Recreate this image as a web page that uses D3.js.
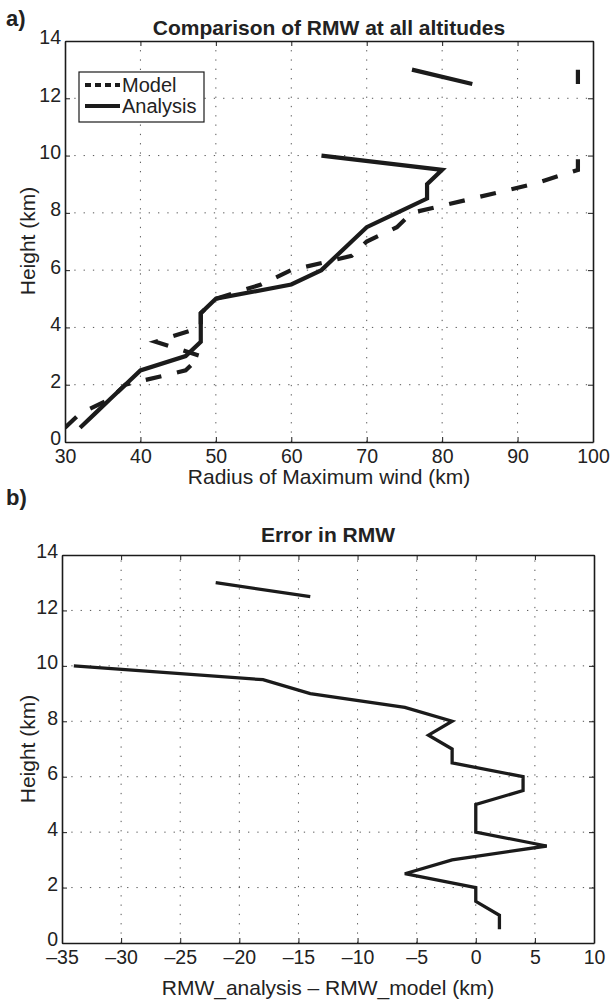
<!DOCTYPE html>
<html lang="en">
<head>
<meta charset="UTF-8">
<title>RMW comparison</title>
<script src="https://d3js.org/d3.v7.min.js"></script>
<style>
  body { margin: 0; background: #fff; }
  svg { display: block; font-family: "Liberation Sans", Arial, Helvetica, sans-serif; }
  .tick text { fill: #222; }
</style>
</head>
<body>
<svg id="fig" width="613" height="1002"></svg>
<script>
// heights (km) where RMW was sampled
const heights = [0.5, 1, 1.5, 2, 2.5, 3, 3.5, 4, 4.5, 5, 5.5, 6, 6.5, 7, 7.5, 8, 8.5, 9, 9.5, 10, 10.5, 11, 11.5, 12, 12.5, 13];
// RMW (km), null where missing
const modelRmw    = [30, 32, 36, 38, 46, 48, 42, 48, 48, 50, 56, 60, 68, 70, 74, 76, 84, 92, 98, 98, null, null, null, null, 98, 98];
const analysisRmw = [32, 34, 36, 38, 40, 46, 48, 48, 48, 50, 60, 64, 66, 68, 70, 74, 78, 78, 80, 64, null, null, null, null, 84, 76];
// analysis - model (km)
const rmwError    = [2, 2, 0, 0, -6, -2, 6, 0, 0, 0, 4, 4, -2, -2, -4, -2, -6, -14, -18, -34, null, null, null, null, -14, -22];

const ticksA = [30, 40, 50, 60, 70, 80, 90, 100];
const ticksB = [-35, -30, -25, -20, -15, -10, -5, 0, 5, 10];
const ticksY = [0, 2, 4, 6, 8, 10, 12, 14];

const svg = d3.select("#fig");
const ink = "#1b1b1b";
const minus = v => String(v).replace("-", "\u2013");

// draws grid, box, ticks and labels for one panel
function frame(x, y, xTicks, name) {
  const [x0, x1] = x.range();
  const [y0, y1] = y.range();

  svg.append("clipPath").attr("id", "clip-" + name)
    .append("rect").attr("x", x0).attr("y", y1).attr("width", x1 - x0).attr("height", y0 - y1);

  const grid = svg.append("g").attr("stroke", "#555").attr("stroke-width", 1)
    .attr("stroke-dasharray", "1.3,8");
  grid.selectAll(".gx").data(xTicks.slice(1, -1)).join("line")
    .attr("x1", d => x(d)).attr("x2", d => x(d)).attr("y1", y0).attr("y2", y1);
  grid.selectAll(".gy").data(ticksY.slice(1, -1)).join("line")
    .attr("y1", d => y(d)).attr("y2", d => y(d)).attr("x1", x0).attr("x2", x1);

  const bottom = svg.append("g").attr("transform", `translate(0,${y0})`)
    .call(d3.axisBottom(x).tickValues(xTicks).tickFormat(minus).tickSize(-5).tickSizeOuter(0).tickPadding(7));
  const left = svg.append("g").attr("transform", `translate(${x0},0)`)
    .call(d3.axisLeft(y).tickValues(ticksY).tickSize(-5).tickSizeOuter(0).tickPadding(4));
  const top = svg.append("g").attr("transform", `translate(0,${y1})`)
    .call(d3.axisTop(x).tickValues(xTicks).tickFormat("").tickSize(-5).tickSizeOuter(0));
  const right = svg.append("g").attr("transform", `translate(${x1},0)`)
    .call(d3.axisRight(y).tickValues(ticksY).tickFormat("").tickSize(-5).tickSizeOuter(0));

  [bottom, left, top, right].forEach(a => {
    a.select(".domain").attr("stroke", ink).attr("stroke-width", 1.6);
    a.selectAll(".tick line").attr("stroke", ink).attr("stroke-width", 1);
    a.selectAll("text").style("font-size", "19.5px").style("font-family", null);
  });
  left.selectAll("text").attr("dy", "0.15em");
}

function lineOf(x, y, values) {
  return d3.line()
    .defined((d, i) => values[i] != null)
    .x((d, i) => x(values[i]))
    .y(d => y(d))(heights);
}

// ---------- panel a ----------
const xa = d3.scaleLinear().domain([30, 100]).range([65, 593]);
const ya = d3.scaleLinear().domain([0, 14]).range([442, 41]);
frame(xa, ya, ticksA, "a");

const linesA = svg.append("g").attr("clip-path", "url(#clip-a)")
  .attr("fill", "none").attr("stroke", ink).attr("stroke-width", 4.2)
  .attr("stroke-linejoin", "miter");
linesA.append("path").attr("d", lineOf(xa, ya, modelRmw)).attr("stroke-dasharray", "16,16");
linesA.append("path").attr("d", lineOf(xa, ya, analysisRmw));

// legend
const leg = svg.append("g").attr("transform", "translate(79,72)");
leg.append("rect").attr("width", 125).attr("height", 50)
  .attr("fill", "#fff").attr("stroke", ink).attr("stroke-width", 1.2);
const legItems = [{ name: "Model", dash: "6,4" }, { name: "Analysis", dash: null }];
legItems.forEach((d, i) => {
  const cy = 13 + i * 21;
  leg.append("line").attr("x1", 6).attr("x2", 41).attr("y1", cy).attr("y2", cy)
    .attr("stroke", ink).attr("stroke-width", 4.2).attr("stroke-dasharray", d.dash);
  leg.append("text").attr("x", 43).attr("y", cy).attr("dy", "0.36em")
    .style("font-size", "20px").attr("fill", "#222").text(d.name);
});

svg.append("text").attr("x", 329).attr("y", 35).attr("text-anchor", "middle")
  .style("font-size", "21px").style("font-weight", "bold").attr("fill", "#222")
  .text("Comparison of RMW at all altitudes");
svg.append("text").attr("x", 6).attr("y", 26)
  .style("font-size", "22px").style("font-weight", "bold").attr("fill", "#222").text("a)");
svg.append("text").attr("x", 329).attr("y", 484).attr("text-anchor", "middle")
  .style("font-size", "21px").attr("fill", "#222").text("Radius of Maximum wind (km)");
svg.append("text").attr("transform", "rotate(-90)").attr("x", -241).attr("y", 35)
  .attr("text-anchor", "middle").style("font-size", "21px").attr("fill", "#222").text("Height (km)");

// ---------- panel b ----------
const xb = d3.scaleLinear().domain([-35, 10]).range([62, 594]);
const yb = d3.scaleLinear().domain([0, 14]).range([943, 555]);
frame(xb, yb, ticksB, "b");

svg.append("g").attr("clip-path", "url(#clip-b)")
  .append("path").attr("d", lineOf(xb, yb, rmwError))
  .attr("fill", "none").attr("stroke", ink).attr("stroke-width", 3.3).attr("stroke-linejoin", "miter");

svg.append("text").attr("x", 328).attr("y", 542).attr("text-anchor", "middle")
  .style("font-size", "21px").style("font-weight", "bold").attr("fill", "#222")
  .text("Error in RMW");
svg.append("text").attr("x", 6).attr("y", 505)
  .style("font-size", "22px").style("font-weight", "bold").attr("fill", "#222").text("b)");
svg.append("text").attr("x", 328).attr("y", 995).attr("text-anchor", "middle")
  .style("font-size", "21px").attr("fill", "#222").text("RMW_analysis \u2013 RMW_model (km)");
svg.append("text").attr("transform", "rotate(-90)").attr("x", -749).attr("y", 35)
  .attr("text-anchor", "middle").style("font-size", "21px").attr("fill", "#222").text("Height (km)");
</script>
</body>
</html>
